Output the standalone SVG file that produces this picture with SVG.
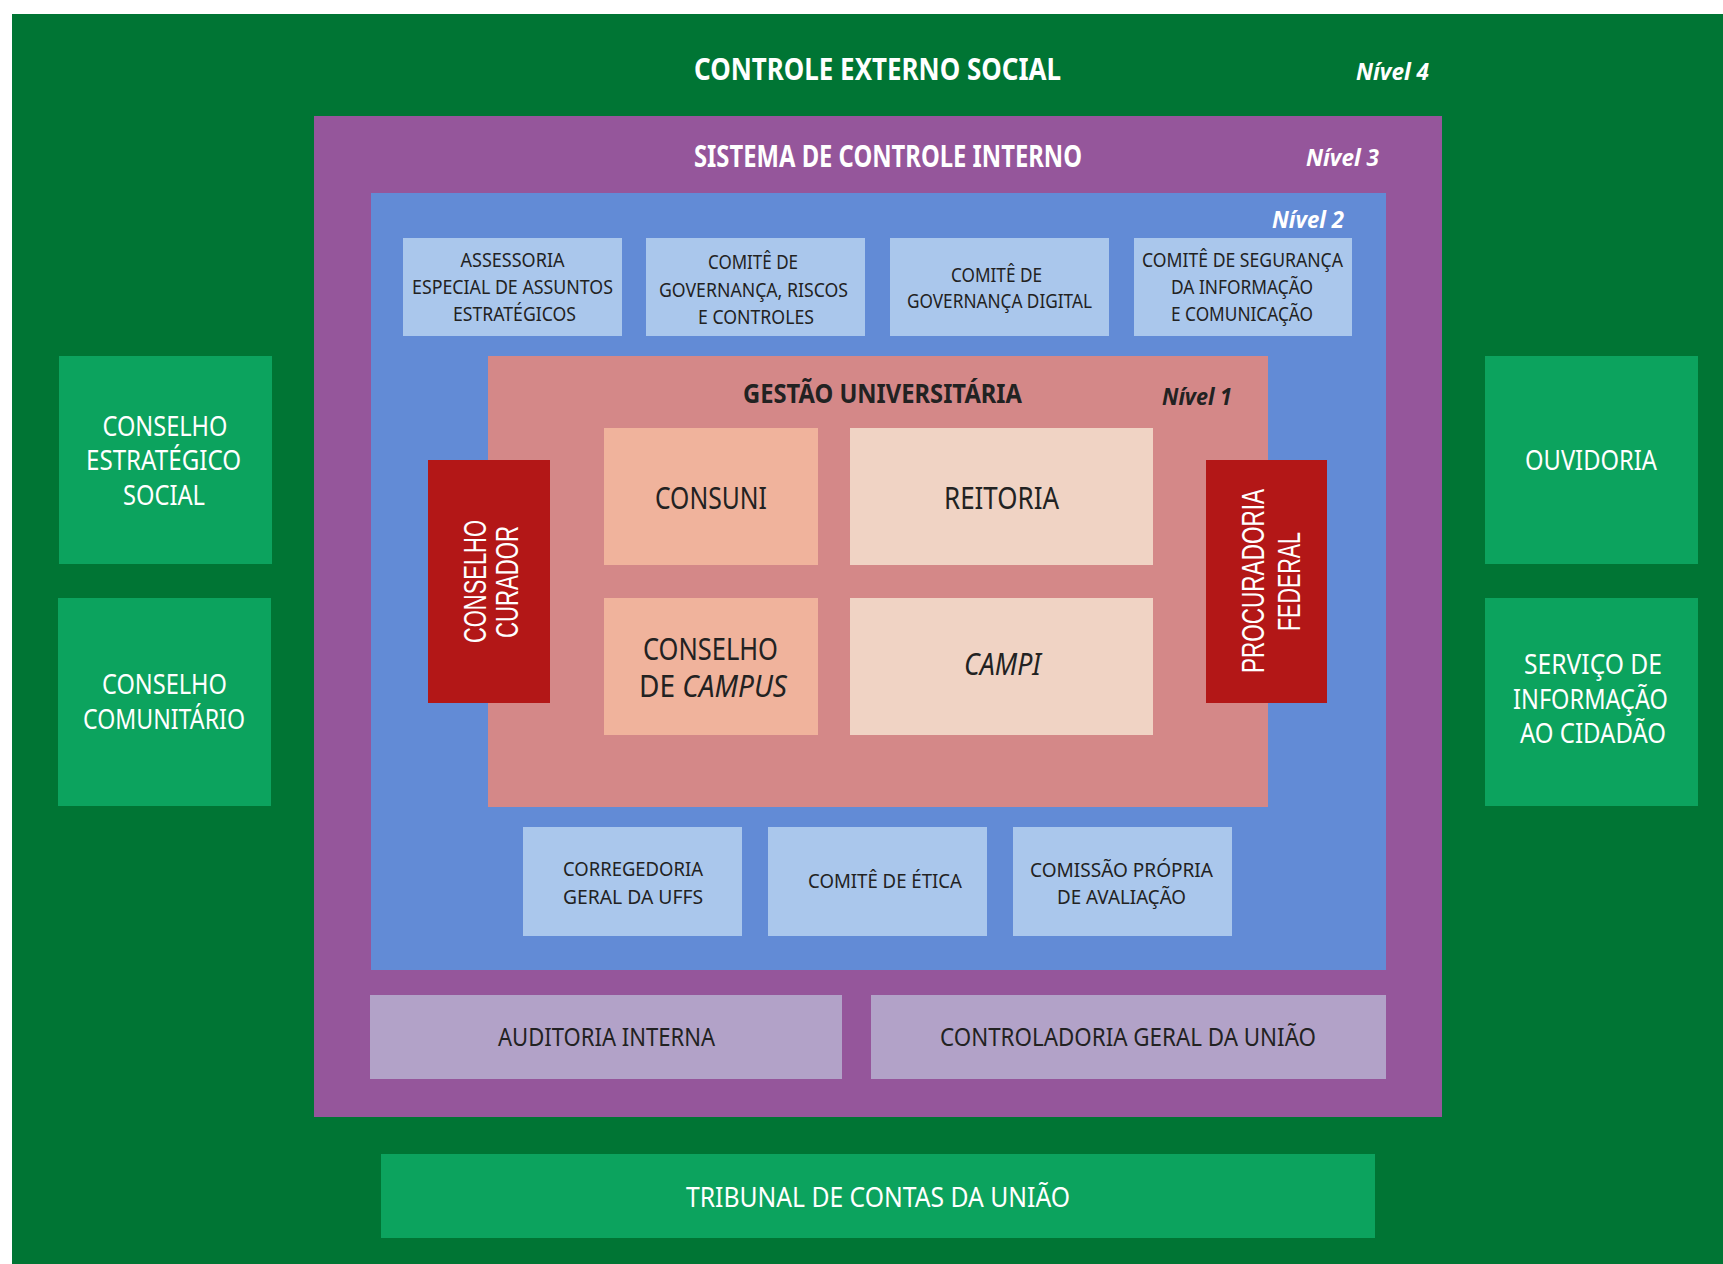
<svg xmlns="http://www.w3.org/2000/svg" width="1723" height="1264" viewBox="0 0 1723 1264">
<style>
text{font-family:"Noto Sans","Open Sans","DejaVu Sans",sans-serif;text-anchor:middle}
.w{fill:#ffffff}.d{fill:#222222}
.t1{font-size:31px;font-weight:bold}
.lv{font-size:23px;font-weight:bold;font-style:italic}
.sm{font-size:19px}
.sb{font-size:20px}
.md{font-size:25px}
.lg{font-size:30px}
.gr{font-size:27px}
.rot{font-family:"Liberation Sans","DejaVu Sans",sans-serif;font-size:31px;fill:#ffffff}
.it{font-style:italic}
</style>
<rect x="0" y="0" width="1723" height="1264" fill="#ffffff"/>
<g id="nivel4">
<rect x="12" y="14" width="1711" height="1250" fill="#007534"/>
<text class="w t1" x="877.5" y="80" textLength="367" lengthAdjust="spacingAndGlyphs">CONTROLE EXTERNO SOCIAL</text>
<text class="w lv" x="1392.5" y="80" textLength="73" lengthAdjust="spacingAndGlyphs">Nível 4</text>
</g>
<g id="nivel3">
<rect x="314" y="116" width="1128" height="1001" fill="#95569B"/>
<text class="w t1" x="888" y="167" textLength="388" lengthAdjust="spacingAndGlyphs" style="font-size:30px">SISTEMA DE CONTROLE INTERNO</text>
<text class="w lv" x="1342.5" y="166" textLength="73" lengthAdjust="spacingAndGlyphs">Nível 3</text>
</g>
<g id="nivel2">
<rect x="371" y="193" width="1015" height="777" fill="#628BD6"/>
<text class="w lv" x="1308" y="228" textLength="72" lengthAdjust="spacingAndGlyphs">Nível 2</text>
</g>
<g id="assessoria">
<rect x="403" y="238" width="219" height="98" fill="#AAC7EC"/>
<text class="d sm" x="512.5" y="267" textLength="104" lengthAdjust="spacingAndGlyphs">ASSESSORIA</text>
<text class="d sm" x="512.5" y="294" textLength="201" lengthAdjust="spacingAndGlyphs">ESPECIAL DE ASSUNTOS</text>
<text class="d sm" x="514.5" y="321" textLength="123" lengthAdjust="spacingAndGlyphs">ESTRATÉGICOS</text>
</g>
<g id="comite-governanca-riscos">
<rect x="646" y="238" width="219" height="98" fill="#AAC7EC"/>
<text class="d sm" x="753" y="269" textLength="90" lengthAdjust="spacingAndGlyphs">COMITÊ DE</text>
<text class="d sm" x="753.5" y="297" textLength="189" lengthAdjust="spacingAndGlyphs">GOVERNANÇA, RISCOS</text>
<text class="d sm" x="756" y="324" textLength="116" lengthAdjust="spacingAndGlyphs">E CONTROLES</text>
</g>
<g id="comite-governanca-digital">
<rect x="890" y="238" width="219" height="98" fill="#AAC7EC"/>
<text class="d sm" x="996.5" y="282" textLength="91" lengthAdjust="spacingAndGlyphs">COMITÊ DE</text>
<text class="d sm" x="999.5" y="308" textLength="185" lengthAdjust="spacingAndGlyphs">GOVERNANÇA DIGITAL</text>
</g>
<g id="comite-seguranca">
<rect x="1134" y="238" width="218" height="98" fill="#AAC7EC"/>
<text class="d sm" x="1242.5" y="267" textLength="201" lengthAdjust="spacingAndGlyphs">COMITÊ DE SEGURANÇA</text>
<text class="d sm" x="1242" y="294" textLength="142" lengthAdjust="spacingAndGlyphs">DA INFORMAÇÃO</text>
<text class="d sm" x="1242" y="321" textLength="142" lengthAdjust="spacingAndGlyphs">E COMUNICAÇÃO</text>
</g>
<g id="nivel1">
<rect x="488" y="356" width="780" height="451" fill="#D48888"/>
<text class="d t1" x="882.5" y="403" textLength="279" lengthAdjust="spacingAndGlyphs" style="font-size:26px">GESTÃO UNIVERSITÁRIA</text>
<text class="d lv" x="1197" y="405" textLength="70" lengthAdjust="spacingAndGlyphs">Nível 1</text>
</g>
<g id="consuni">
<rect x="604" y="428" width="214" height="137" fill="#F0B39C"/>
<text class="d lg" x="711" y="509" textLength="112" lengthAdjust="spacingAndGlyphs">CONSUNI</text>
</g>
<g id="reitoria">
<rect x="850" y="428" width="303" height="137" fill="#F0D3C4"/>
<text class="d lg" x="1001.5" y="509" textLength="115" lengthAdjust="spacingAndGlyphs">REITORIA</text>
</g>
<g id="conselho-campus">
<rect x="604" y="598" width="214" height="137" fill="#F0B39C"/>
<text class="d lg" x="710.5" y="660" textLength="135" lengthAdjust="spacingAndGlyphs">CONSELHO</text>
<text class="d lg" x="713" y="697" textLength="148" lengthAdjust="spacingAndGlyphs">DE <tspan class="it">CAMPUS</tspan></text>
</g>
<g id="campi">
<rect x="850" y="598" width="303" height="137" fill="#F0D3C4"/>
<text class="d lg it" x="1002.5" y="675" textLength="77" lengthAdjust="spacingAndGlyphs">CAMPI</text>
</g>
<g id="conselho-curador">
<rect x="428" y="460" width="122" height="243" fill="#B31717"/>
<text class="rot" x="486" y="581.5" transform="rotate(-90 486 581.5)" textLength="123" lengthAdjust="spacingAndGlyphs">CONSELHO</text>
<text class="rot" x="518" y="582" transform="rotate(-90 518 582)" textLength="112" lengthAdjust="spacingAndGlyphs">CURADOR</text>
</g>
<g id="procuradoria-federal">
<rect x="1206" y="460" width="121" height="243" fill="#B31717"/>
<text class="rot" x="1264" y="581" transform="rotate(-90 1264 581)" textLength="184" lengthAdjust="spacingAndGlyphs">PROCURADORIA</text>
<text class="rot" x="1300" y="581.5" transform="rotate(-90 1300 581.5)" textLength="99" lengthAdjust="spacingAndGlyphs">FEDERAL</text>
</g>
<g id="corregedoria">
<rect x="523" y="827" width="219" height="109" fill="#AAC7EC"/>
<text class="d sb" x="633" y="876" textLength="140" lengthAdjust="spacingAndGlyphs">CORREGEDORIA</text>
<text class="d sb" x="633" y="904" textLength="140" lengthAdjust="spacingAndGlyphs">GERAL DA UFFS</text>
</g>
<g id="comite-etica">
<rect x="768" y="827" width="219" height="109" fill="#AAC7EC"/>
<text class="d sb" x="885" y="888" textLength="154" lengthAdjust="spacingAndGlyphs">COMITÊ DE ÉTICA</text>
</g>
<g id="cpa">
<rect x="1013" y="827" width="219" height="109" fill="#AAC7EC"/>
<text class="d sb" x="1121.5" y="877" textLength="183" lengthAdjust="spacingAndGlyphs">COMISSÃO PRÓPRIA</text>
<text class="d sb" x="1121.5" y="904" textLength="129" lengthAdjust="spacingAndGlyphs">DE AVALIAÇÃO</text>
</g>
<g id="auditoria-interna">
<rect x="370" y="995" width="472" height="84" fill="#B2A2C8"/>
<text class="d md" x="606.5" y="1046" textLength="217" lengthAdjust="spacingAndGlyphs">AUDITORIA INTERNA</text>
</g>
<g id="cgu">
<rect x="871" y="995" width="515" height="84" fill="#B2A2C8"/>
<text class="d md" x="1128" y="1046" textLength="376" lengthAdjust="spacingAndGlyphs">CONTROLADORIA GERAL DA UNIÃO</text>
</g>
<g id="tcu">
<rect x="381" y="1154" width="994" height="84" fill="#0CA35E"/>
<text class="w" x="878" y="1207" textLength="384" lengthAdjust="spacingAndGlyphs" style="font-size:28px">TRIBUNAL DE CONTAS DA UNIÃO</text>
</g>
<g id="conselho-estrategico">
<rect x="59" y="356" width="213" height="208" fill="#0CA35E"/>
<text class="w gr" x="165" y="436" textLength="125" lengthAdjust="spacingAndGlyphs">CONSELHO</text>
<text class="w gr" x="163.5" y="470" textLength="155" lengthAdjust="spacingAndGlyphs">ESTRATÉGICO</text>
<text class="w gr" x="164" y="505" textLength="82" lengthAdjust="spacingAndGlyphs">SOCIAL</text>
</g>
<g id="conselho-comunitario">
<rect x="58" y="598" width="213" height="208" fill="#0CA35E"/>
<text class="w gr" x="164.5" y="694" textLength="125" lengthAdjust="spacingAndGlyphs">CONSELHO</text>
<text class="w gr" x="164" y="729" textLength="162" lengthAdjust="spacingAndGlyphs">COMUNITÁRIO</text>
</g>
<g id="ouvidoria">
<rect x="1485" y="356" width="213" height="208" fill="#0CA35E"/>
<text class="w gr" x="1591" y="470" textLength="132" lengthAdjust="spacingAndGlyphs">OUVIDORIA</text>
</g>
<g id="sic">
<rect x="1485" y="598" width="213" height="208" fill="#0CA35E"/>
<text class="w gr" x="1593" y="674" textLength="138" lengthAdjust="spacingAndGlyphs">SERVIÇO DE</text>
<text class="w gr" x="1590.5" y="709" textLength="155" lengthAdjust="spacingAndGlyphs">INFORMAÇÃO</text>
<text class="w gr" x="1593" y="743" textLength="146" lengthAdjust="spacingAndGlyphs">AO CIDADÃO</text>
</g>
<g id="connectors"></g>
</svg>
